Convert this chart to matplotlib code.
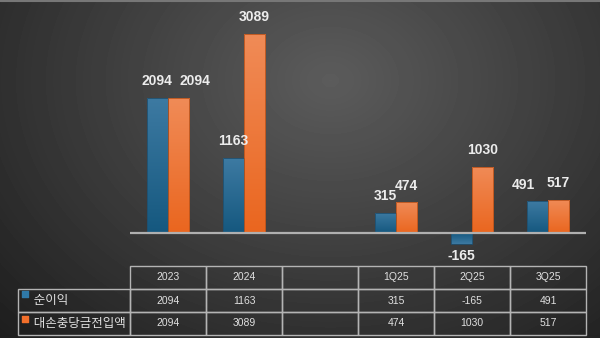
import numpy as np
import matplotlib.pyplot as plt
from matplotlib.colors import LinearSegmentedColormap

plt.rcParams['font.family'] = ['Liberation Sans', 'Noto Sans CJK KR', 'DejaVu Sans']

# data
categories = ['2023', '2024', '', '1Q25', '2Q25', '3Q25']
net_income = [2094, 1163, None, 315, -165, 491]
provisions = [2094, 3089, None, 474, 1030, 517]
series_names = ['순이익', '대손충당금전입액']

W, H = 600, 338
fig = plt.figure(figsize=(W / 100, H / 100), dpi=100)

# radial gradient background
bg = fig.add_axes([0, 0, 1, 1])
yy, xx = np.mgrid[0:H, 0:W]
r = np.sqrt(((xx - 330) / 420.0) ** 2 + ((yy - 80) / 330.0) ** 2)
shade = np.clip(0.36 - 0.22 * r, 0.1, 0.36)
bg.imshow(shade, cmap='gray', vmin=0, vmax=1, extent=[0, W, H, 0], aspect='auto')
bg.axhline(0.5, color='#777777', lw=1.5)
bg.set_xlim(0, W)
bg.set_ylim(H, 0)
bg.axis('off')

# bar axes: pixel box x 130..586, y 0..262
ax = fig.add_axes([130 / W, (H - 262) / H, 456 / W, 262 / H])
ax.set_facecolor('none')
x = np.arange(len(categories))
bw = 0.28

blue_cm = LinearSegmentedColormap.from_list('b', ['#15587f', '#3d7aa2'])
orange_cm = LinearSegmentedColormap.from_list('o', ['#ea661f', '#f08b57'])

def grad_bars(xs, vals, cmap, edge):
    for xi, v in zip(xs, vals):
        if v is None:
            continue
        bar = ax.bar(xi, v, bw, color='none', edgecolor=edge, lw=0.6, zorder=3)[0]
        grad = np.linspace(0, 1, 100).reshape(-1, 1)
        if v < 0:
            grad = grad[::-1]
        im = ax.imshow(grad, cmap=cmap, origin='lower', aspect='auto',
                       extent=[xi - bw / 2, xi + bw / 2, min(0, v), max(0, v)], zorder=2)
        im.set_clip_path(bar)

grad_bars(x - bw / 2, net_income, blue_cm, '#1f4f6e')
grad_bars(x + bw / 2, provisions, orange_cm, '#b8531c')

# sideways nudges (points) so neighbouring labels don't collide, like the original
blue_shift = [0, 0, 0, 0, 0, -10]
orange_shift = [12, 0, 0, 0, 0, 0]

lab = dict(color='#ececec', fontsize=10, fontweight='bold', ha='center', zorder=5,
           textcoords='offset points')
for xi, v, dx in zip(x - bw / 2, net_income, blue_shift):
    if v is None:
        continue
    if v >= 0:
        ax.annotate(str(v), (xi, v), xytext=(dx, 7), va='bottom', **lab)
    else:
        ax.annotate(str(v), (xi, v), xytext=(dx, -4), va='top', **lab)
for xi, v, dx in zip(x + bw / 2, provisions, orange_shift):
    if v is None:
        continue
    ax.annotate(str(v), (xi, v), xytext=(dx, 7), va='bottom', **lab)

ax.axhline(0, color='#b0b0b0', lw=1.6, zorder=4)
ax.set_xlim(-0.5, len(categories) - 0.5)
ax.set_ylim(-450, 3618)
ax.axis('off')

# data table
tax = fig.add_axes([0, 0, 1, 1])
tax.set_xlim(0, W)
tax.set_ylim(H, 0)
tax.axis('off')

fmt = lambda v: '' if v is None else str(v)
cell_text = [[''] + categories,
             ['     ' + series_names[0]] + [fmt(v) for v in net_income],
             ['     ' + series_names[1]] + [fmt(v) for v in provisions]]
col_w = [112] + [76] * len(categories)
tbl = tax.table(cellText=cell_text, colWidths=[c / sum(col_w) for c in col_w],
                cellLoc='center', bbox=[18 / W, 3 / H, 568 / W, 69 / H])
tbl.auto_set_font_size(False)
for (r_, c_), cell in tbl.get_celld().items():
    cell.set_facecolor('none')
    cell.set_edgecolor('#b4b4b4')
    cell.set_linewidth(1.0)
    t = cell.get_text()
    t.set_color('#e0e0e0')
    t.set_fontsize(7.5)
    if c_ == 0:
        t.set_ha('left')
        cell.PAD = 0.02
        t.set_fontsize(9)
        t.set_family(['Noto Sans CJK KR', 'DejaVu Sans'])
    if r_ == 0 and c_ == 0:
        cell.visible_edges = ''

# colour keys in the row labels
tax.scatter([25, 25], [294, 319], marker='s', s=22, c=['#2f79a8', '#f26f2b'], zorder=6)

fig.savefig('out.png', dpi=100)
